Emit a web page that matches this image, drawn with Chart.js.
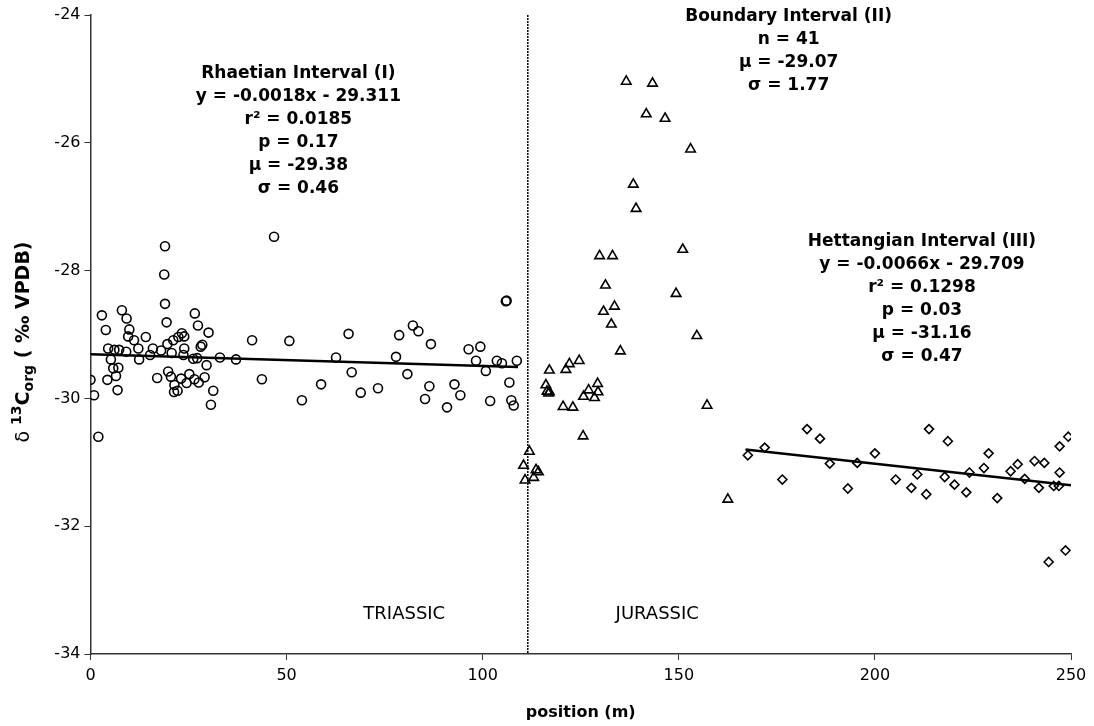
<!DOCTYPE html>
<html>
<head>
<meta charset="utf-8">
<script src="https://cdn.jsdelivr.net/npm/chart.js@4.4.1/dist/chart.umd.min.js"></script>
<style>
  html, body { margin: 0; padding: 0; background: #fff; }
  #wrap { width: 1094px; height: 726px; }
</style>
</head>
<body>
<div id="wrap"><canvas id="myChart" width="1094" height="726"></canvas></div>
<script>
// Rhaetian interval (circles)
const rhaetianPos = [0.0, 0.9, 2.0, 2.9, 3.9, 4.3, 4.5, 5.2, 5.8, 6.1, 6.5, 6.9, 7.1, 7.3, 8.0, 9.2, 9.9, 9.6, 9.1, 11.1,
  12.2, 12.4, 14.1, 15.2, 15.9, 17.0, 18.0, 19.0, 19.4, 19.6, 19.8, 20.7, 20.5, 21.1, 21.4, 21.3, 22.2, 22.4, 23.3, 23.9,
  23.9, 23.7, 23.1, 24.5, 25.2, 26.2, 26.6, 26.5, 27.2, 27.4, 27.6, 28.1, 28.5, 29.1, 29.6, 30.1, 30.7, 31.3, 33.0, 37.1,
  41.2, 43.7, 50.7, 53.9, 58.8, 62.6, 65.8, 66.6, 68.9, 73.3, 77.9, 78.7, 80.8, 82.2, 83.6, 85.3, 86.4, 86.8, 90.9, 92.8,
  94.3, 96.4, 98.3, 99.4, 100.8, 101.9, 103.6, 104.9, 106.8, 107.3, 107.9, 108.7, 105.9, 106.1, 19.0, 18.8, 46.8];
const rhaetianC13 = [-29.71, -29.95, -30.60, -28.70, -28.93, -29.71, -29.22, -29.39, -29.53, -29.24, -29.65, -29.87, -29.52, -29.24, -28.62, -28.75, -28.92, -29.03, -29.27, -29.09,
  -29.22, -29.39, -29.04, -29.32, -29.22, -29.68, -29.25, -28.52, -28.81, -29.15, -29.58, -29.29, -29.66, -29.09, -29.79, -29.90, -29.88, -29.04, -28.98, -29.03,
  -29.22, -29.32, -29.69, -29.76, -29.62, -29.38, -28.67, -29.70, -29.37, -28.86, -29.75, -29.19, -29.16, -29.67, -29.48, -28.97, -30.10, -29.88, -29.36, -29.39,
  -29.09, -29.70, -29.10, -30.03, -29.78, -29.36, -28.99, -29.59, -29.91, -29.84, -29.35, -29.01, -29.62, -28.86, -28.95, -30.01, -29.81, -29.15, -30.14, -29.78,
  -29.95, -29.23, -29.41, -29.19, -29.57, -30.04, -29.41, -29.45, -29.75, -30.03, -30.11, -29.41, -28.48, -28.47, -27.62, -28.06, -27.47];

// Boundary interval (triangles)
const boundaryPos = [136.6, 143.3, 141.7, 146.5, 153.0, 138.4, 139.1, 129.8, 133.1, 151.0, 131.3, 149.3, 130.8, 133.6, 132.8,
  135.1, 154.6, 157.2, 117.0, 116.1, 116.4, 117.0, 121.2, 122.1, 124.6, 120.5, 123.0, 125.6, 125.7, 127.0,
  128.5, 129.3, 129.4, 111.9, 110.4, 113.6, 114.2, 113.0, 110.8, 162.5, 116.8];
const boundaryC13 = [-25.04, -25.07, -25.55, -25.62, -26.10, -26.65, -27.03, -27.77, -27.77, -27.67, -28.23, -28.36, -28.64, -28.56, -28.84,
  -29.26, -29.02, -30.11, -29.56, -29.79, -29.89, -29.90, -29.55, -29.46, -29.41, -30.13, -30.14, -30.59, -29.97, -29.87,
  -29.99, -29.77, -29.90, -30.83, -31.05, -31.12, -31.15, -31.24, -31.28, -31.58, -29.92];

// Hettangian interval (diamonds)
const hettangianPos = [167.6, 171.9, 176.4, 182.7, 186.0, 188.5, 193.1, 195.5, 200.0, 205.3, 209.3, 210.8, 213.1, 213.8, 217.8,
  218.6, 220.3, 223.3, 224.1, 227.8, 229.0, 231.2, 234.6, 236.4, 238.2, 240.7, 241.8, 243.2, 245.6, 244.3,
  247.1, 247.1, 246.9, 249.3, 248.6];
const hettangianC13 = [-30.89, -30.77, -31.27, -30.48, -30.63, -31.02, -31.41, -31.01, -30.86, -31.27, -31.40, -31.19, -31.50, -30.48, -31.23,
  -30.67, -31.35, -31.47, -31.16, -31.09, -30.86, -31.56, -31.14, -31.03, -31.26, -30.98, -31.40, -31.01, -31.37, -32.56,
  -30.75, -31.16, -31.37, -30.60, -32.38];

// trend lines and the Triassic/Jurassic boundary
const rhaetianTrendPos = [0, 109];
const rhaetianTrendC13 = [-29.31, -29.51];
const hettangianTrendPos = [167, 250];
const hettangianTrendC13 = [-30.80, -31.36];
const boundaryLinePos = [111.5, 111.5];
const boundaryLineC13 = [-24, -34];

const xTicks = [0, 50, 100, 150, 200, 250];
const yTicks = [-24, -26, -28, -30, -32, -34];

const rhaetianText = ["Rhaetian Interval (I)", "y = -0.0018x - 29.311", "r² = 0.0185", "p = 0.17", "μ = -29.38", "σ = 0.46"];
const boundaryText = ["Boundary Interval (II)", "n = 41", "μ = -29.07", "σ = 1.77"];
const hettangianText = ["Hettangian Interval (III)", "y = -0.0066x - 29.709", "r² = 0.1298", "p = 0.03", "μ = -31.16", "σ = 0.47"];
const periodLabels = ["TRIASSIC", "JURASSIC"];

function toPoints(xs, ys) {
  return xs.map((x, i) => ({ x: x, y: ys[i] }));
}

const FONT = "'DejaVu Sans', Verdana, sans-serif";

// text blocks placed in data coordinates
const textPlugin = {
  id: "textBlocks",
  afterDraw(chart) {
    const ctx = chart.ctx;
    const xs = chart.scales.x;
    const ys = chart.scales.y;
    const blocks = [
      { lines: rhaetianText, x: 53, y: -24.92 },
      { lines: boundaryText, x: 178, y: -24.03 },
      { lines: hettangianText, x: 212, y: -27.55 },
    ];
    ctx.save();
    ctx.fillStyle = "#000";
    ctx.textAlign = "center";
    ctx.textBaseline = "middle";
    blocks.forEach((b) => {
      const cx = xs.getPixelForValue(b.x);
      const cy = ys.getPixelForValue(b.y);
      b.lines.forEach((line, i) => {
        ctx.font = "bold 17px " + FONT;
        ctx.fillText(line, cx, cy + i * 23);
      });
    });

    ctx.font = "18px " + FONT;
    ctx.fillText(periodLabels[0], xs.getPixelForValue(80), ys.getPixelForValue(-33.38));
    ctx.fillText(periodLabels[1], xs.getPixelForValue(144.5), ys.getPixelForValue(-33.38));

    // y axis title with super/subscript
    ctx.translate(22, 342);
    ctx.rotate(-Math.PI / 2);
    ctx.textAlign = "left";
    ctx.textBaseline = "alphabetic";
    const parts = [
      { t: "δ ", f: "19px " + FONT, dy: 0 },
      { t: "13", f: "bold 14px " + FONT, dy: -8 },
      { t: "C", f: "bold 19px " + FONT, dy: 0 },
      { t: "org", f: "bold 14px " + FONT, dy: 4 },
      { t: " ( ‰ VPDB)", f: "bold 19px " + FONT, dy: 0 },
    ];
    let total = 0;
    parts.forEach((p) => { ctx.font = p.f; total += ctx.measureText(p.t).width; });
    let px = -total / 2;
    parts.forEach((p) => {
      ctx.font = p.f;
      ctx.fillText(p.t, px, 7 + p.dy);
      px += ctx.measureText(p.t).width;
    });
    ctx.restore();
  },
};

const markerBase = {
  type: "scatter",
  showLine: false,
  borderColor: "#000",
  backgroundColor: "rgba(255,255,255,0)",
  borderWidth: 1.6,
};

new Chart(document.getElementById("myChart").getContext("2d"), {
  type: "scatter",
  data: {
    datasets: [
      Object.assign({}, markerBase, { data: toPoints(rhaetianPos, rhaetianC13), pointStyle: "circle", pointRadius: 4.5 }),
      Object.assign({}, markerBase, { data: toPoints(boundaryPos, boundaryC13), pointStyle: "triangle", pointRadius: 5.5 }),
      Object.assign({}, markerBase, { data: toPoints(hettangianPos, hettangianC13), pointStyle: "rectRot", pointRadius: 4.5 }),
      {
        type: "line",
        data: toPoints(rhaetianTrendPos, rhaetianTrendC13),
        borderColor: "#000",
        borderWidth: 2.5,
        pointRadius: 0,
      },
      {
        type: "line",
        data: toPoints(hettangianTrendPos, hettangianTrendC13),
        borderColor: "#000",
        borderWidth: 2.5,
        pointRadius: 0,
      },
      {
        type: "line",
        data: toPoints(boundaryLinePos, boundaryLineC13),
        borderColor: "#000",
        borderWidth: 1.5,
        borderDash: [2, 1],
        pointRadius: 0,
      },
    ],
  },
  options: {
    responsive: false,
    animation: false,
    layout: { padding: { left: 0, right: 23, top: 15, bottom: 0 } },
    plugins: {
      legend: { display: false },
      tooltip: { enabled: false },
    },
    scales: {
      x: {
        type: "linear",
        min: 0,
        max: 250,
        afterBuildTicks: (scale) => { scale.ticks = xTicks.map((v) => ({ value: v })); },
        afterFit: (scale) => { scale.height = 72; },
        border: { color: "#333", width: 1.5 },
        grid: { drawOnChartArea: false, tickLength: 6, color: "#333" },
        ticks: { color: "#000", font: { family: FONT, size: 16 }, padding: 6 },
        title: { display: true, text: "position (m)", color: "#000", font: { family: FONT, size: 16, weight: "bold" }, padding: { top: 4 } },
      },
      y: {
        type: "linear",
        min: -34,
        max: -24,
        afterBuildTicks: (scale) => { scale.ticks = yTicks.map((v) => ({ value: v })); },
        afterFit: (scale) => { scale.width = 90.5; },
        border: { color: "#333", width: 1.5 },
        grid: { drawOnChartArea: false, tickLength: 6, color: "#333" },
        ticks: { color: "#000", font: { family: FONT, size: 16 }, padding: 4 },
      },
    },
  },
  plugins: [textPlugin],
});
</script>
</body>
</html>
